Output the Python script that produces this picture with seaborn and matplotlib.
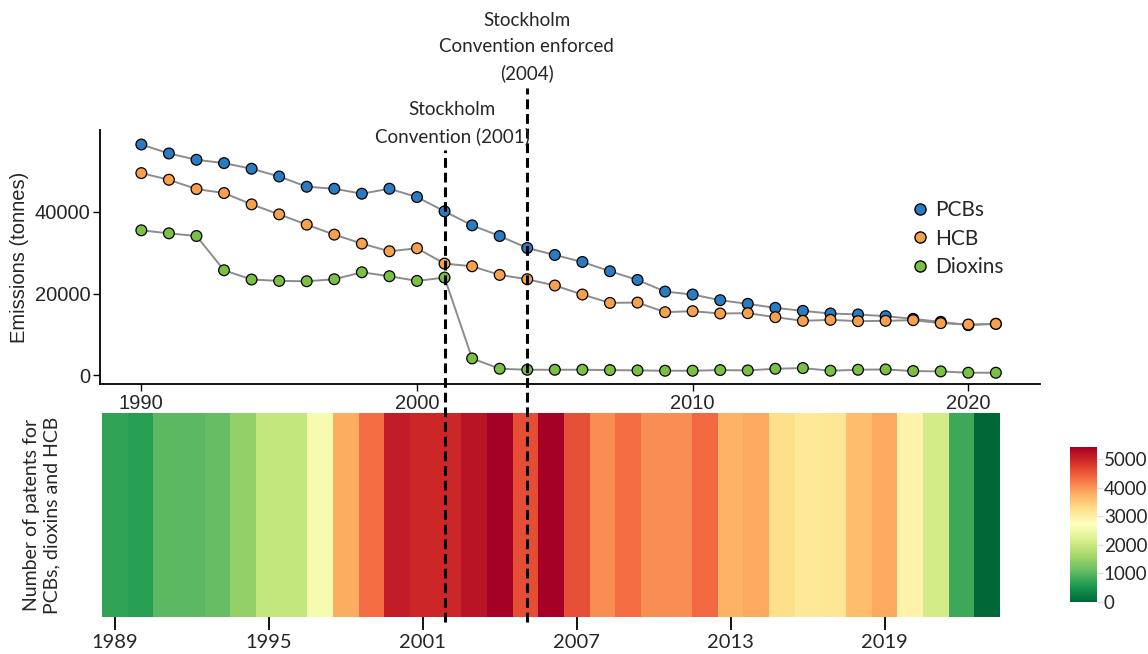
import numpy as np
import pandas as pd
import matplotlib
matplotlib.use("Agg")
import matplotlib.pyplot as plt
import matplotlib.transforms as mtransforms
from matplotlib.lines import Line2D
import seaborn as sns

years = list(range(1990, 2022))

pcbs = [56550, 54350, 52800, 51980, 50600, 48700, 46190, 45700, 44480, 45700,
        43650, 40150, 36720, 34100, 31170, 29450, 27740, 25460, 23330, 20480,
        19750, 18360, 17460, 16480, 15740, 15100, 14860, 14440, 13780, 13050,
        12240, 12560]
hcb = [49530, 47900, 45620, 44640, 41860, 39410, 36890, 34440, 32240, 30360,
       31090, 27340, 26680, 24560, 23500, 21960, 19750, 17700, 17780, 15420,
       15670, 15100, 15180, 14200, 13300, 13540, 13220, 13300, 13460, 12730,
       12400, 12560]
dioxins = [35500, 34760, 34100, 25700, 23430, 23090, 23010, 23500, 25210, 24240,
           23090, 23910, 4080, 1550, 1300, 1300, 1300, 1220, 1140, 1060,
           1060, 1220, 1140, 1550, 1710, 1060, 1300, 1380, 980, 900,
           570, 570]

patent_years = list(range(1989, 2024))
patents = [700, 650, 1030, 1030, 1090, 1470, 1950, 1950, 2550, 3800,
           4340, 5100, 5000, 5000, 5210, 5430, 4620, 5430, 4600, 4070,
           4340, 4070, 4070, 4370, 3750, 3830, 3260, 3100, 3150, 3640,
           3830, 2930, 2120, 800, 0]

series_names = ["PCBs", "HCB", "Dioxins"]
series_colors = {"PCBs": "#2b7bc0", "HCB": "#f7a04e", "Dioxins": "#79c043"}

df = pd.DataFrame({
    "Year": years * 3,
    "Emissions": pcbs + hcb + dioxins,
    "Series": sum([[s] * len(years) for s in series_names], []),
})

sns.set_style("white")
arial = "Liberation Sans"
calib = "Lato"

fig = plt.figure(figsize=(11.48, 6.54), dpi=100)
ax = fig.add_axes([0.0871, 0.4128, 0.8188, 0.3884])
hax = fig.add_axes([0.0889, 0.0566, 0.7822, 0.3119])
cax = fig.add_axes([0.932, 0.0795, 0.0235, 0.237])

# top: emissions
sns.lineplot(data=df, x="Year", y="Emissions", units="Series", estimator=None,
             color="#8c8c8c", linewidth=1.4, ax=ax, legend=False, zorder=1)
sns.scatterplot(data=df, x="Year", y="Emissions", hue="Series",
                palette=series_colors, hue_order=series_names, s=60,
                edgecolor="black", linewidth=0.9, ax=ax, zorder=2)
ax.set_xlim(1988.5, 2022.6)
ax.set_ylim(-2200, 60100)
ax.set_xticks([1990, 2000, 2010, 2020])
ax.set_yticks([0, 20000, 40000])
for lab in ax.get_xticklabels() + ax.get_yticklabels():
    lab.set_fontfamily(arial)
    lab.set_fontsize(14.5)
ax.tick_params(axis="both", direction="out", length=5, width=1, color="black",
               left=True, bottom=True, pad=2)
sns.despine(ax=ax)
for sp in ["left", "bottom"]:
    ax.spines[sp].set_color("black")
    ax.spines[sp].set_linewidth(1.3)
ax.set_xlabel("")
ax.set_ylabel("Emissions (tonnes)", fontfamily=arial, fontsize=14.5, labelpad=4)

handles = [Line2D([], [], marker="o", linestyle="", markersize=8,
                  markerfacecolor=series_colors[s], markeredgecolor="black",
                  markeredgewidth=1) for s in series_names]
ax.legend(handles, series_names, loc="upper left",
          bbox_to_anchor=(0.774, 0.723), bbox_transform=fig.transFigure,
          frameon=False, handletextpad=0.15, labelspacing=0.42,
          handlelength=1.2, prop={"family": calib, "size": 15})

# bottom: patents heatmap
heat = pd.DataFrame([patents], columns=patent_years)
sns.heatmap(heat, cmap="RdYlGn_r", vmin=0, vmax=5430, ax=hax, cbar_ax=cax,
            xticklabels=False, yticklabels=False)
tick_years = [1989, 1995, 2001, 2007, 2013, 2019]
hax.set_xticks([patent_years.index(y) + 0.5 for y in tick_years])
hax.set_xticklabels([str(y) for y in tick_years], fontfamily=calib, fontsize=14.5)
hax.tick_params(axis="x", direction="inout", length=18, width=1.3,
                color="black", bottom=True, pad=3)
hax.set_xlabel("")
hax.set_ylabel("Number of patents for\nPCBs, dioxins and HCB",
               fontfamily=calib, fontsize=14, labelpad=30, linespacing=1.25)

cax.set_yticks([0, 1000, 2000, 3000, 4000, 5000])
cax.tick_params(axis="y", length=4, width=1, color="#dddddd", pad=1)
for lab in cax.get_yticklabels():
    lab.set_fontfamily(calib)
    lab.set_fontsize(13.5)

# convention lines through both panels
trans = mtransforms.blended_transform_factory(ax.transData, fig.transFigure)
for yr, ytop in [(2001, 0.771), (2004, 0.866)]:
    fig.add_artist(Line2D([yr, yr], [0.049, ytop], transform=trans,
                          color="black", linewidth=2.2, linestyle=(0, (3.2, 1.6))))

fig.text(0.394, 0.812, "Stockholm\nConvention (2001)", ha="center", va="center",
         fontfamily=calib, fontsize=13.5, linespacing=1.6)
fig.text(0.459, 0.928, "Stockholm\nConvention enforced\n(2004)", ha="center",
         va="center", fontfamily=calib, fontsize=13.5, linespacing=1.6)

fig.savefig("out.png", dpi=100)
